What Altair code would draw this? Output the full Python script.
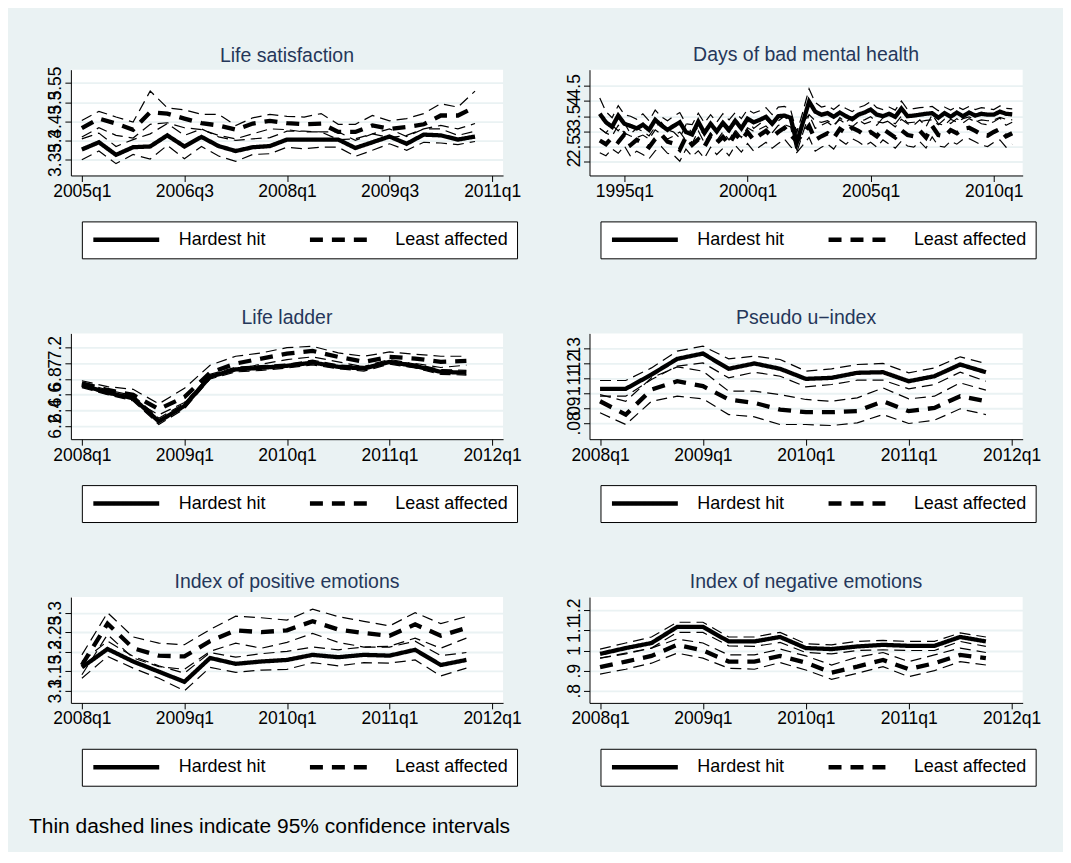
import altair as alt
import pandas as pd

FONT = "Liberation Sans"
BG = "#EAF2F3"
TITLE_COLOR = "#25375A"
GROUPS = ["Hardest hit", "Least affected"]


def qrange(y0, q0, n):
    out, y, q = [], y0, q0
    for _ in range(n):
        out.append(f"{y}q{q}")
        q += 1
        if q > 4:
            q, y = 1, y + 1
    return out


def qnum(s):
    y, q = s.split("q")
    return int(y) * 4 + int(q) - 1


# ---------------- Life satisfaction (2005q1-2010q4) ----------------
ls_quarters = qrange(2005, 1, 24)
ls_hh = [3.376, 3.395, 3.362, 3.382, 3.384, 3.413, 3.384, 3.409, 3.385, 3.372, 3.382, 3.385,
         3.402, 3.402, 3.402, 3.402, 3.380, 3.395, 3.410, 3.391, 3.415, 3.413, 3.402, 3.410]
ls_hh_lo = [3.349, 3.372, 3.339, 3.363, 3.351, 3.387, 3.352, 3.384, 3.359, 3.345, 3.363, 3.365,
            3.382, 3.378, 3.382, 3.382, 3.358, 3.374, 3.391, 3.374, 3.395, 3.393, 3.389, 3.397]
ls_hh_hi = [3.404, 3.419, 3.384, 3.402, 3.417, 3.444, 3.413, 3.430, 3.409, 3.400, 3.404, 3.407,
            3.424, 3.424, 3.422, 3.422, 3.400, 3.417, 3.430, 3.410, 3.430, 3.430, 3.413, 3.424]
ls_la = [3.432, 3.457, 3.444, 3.428, 3.474, 3.470, 3.457, 3.445, 3.439, 3.428, 3.444, 3.451,
         3.445, 3.442, 3.444, 3.422, 3.422, 3.439, 3.430, 3.435, 3.442, 3.465, 3.465, 3.487]
ls_la_lo = [3.409, 3.433, 3.413, 3.406, 3.442, 3.446, 3.433, 3.428, 3.413, 3.404, 3.417, 3.430,
            3.428, 3.422, 3.422, 3.402, 3.404, 3.417, 3.407, 3.413, 3.430, 3.439, 3.430, 3.444]
ls_la_hi = [3.452, 3.476, 3.461, 3.448, 3.529, 3.485, 3.480, 3.468, 3.468, 3.439, 3.459, 3.468,
            3.463, 3.461, 3.470, 3.442, 3.442, 3.465, 3.451, 3.457, 3.470, 3.496, 3.487, 3.529]

# ---------------- Days of bad mental health (1994q1-2010q4) ----------------
mh_quarters = qrange(1994, 1, 68)
mh_hh = [3.58, 3.30, 3.15, 3.52, 3.25, 3.18, 3.10, 3.22, 3.05, 3.38, 3.20, 3.05,
         3.18, 3.30, 2.98, 2.90, 3.32, 2.95, 3.25, 3.00, 3.28, 3.05, 3.35, 3.10,
         3.42, 3.30, 3.38, 3.48, 3.25, 3.50, 3.52, 3.45, 2.62, 3.30, 3.98, 3.65,
         3.55, 3.60, 3.48, 3.62, 3.50, 3.40, 3.55, 3.62, 3.72, 3.55, 3.50, 3.58,
         3.48, 3.75, 3.50, 3.52, 3.55, 3.58, 3.60, 3.45, 3.60, 3.48, 3.62, 3.50,
         3.62, 3.52, 3.58, 3.55, 3.55, 3.65, 3.58, 3.56]
mh_hh_hi = [4.10, 3.65, 3.45, 3.85, 3.55, 3.50, 3.40, 3.58, 3.35, 3.70, 3.48, 3.35,
            3.50, 3.62, 3.25, 3.22, 3.60, 3.28, 3.55, 3.30, 3.58, 3.38, 3.62, 3.42,
            3.72, 3.60, 3.68, 3.78, 3.55, 3.80, 3.82, 3.72, 2.95, 3.65, 4.40, 3.95,
            3.80, 3.85, 3.72, 3.88, 3.75, 3.65, 3.78, 3.85, 3.98, 3.78, 3.72, 3.80,
            3.70, 4.00, 3.72, 3.75, 3.78, 3.80, 3.82, 3.68, 3.80, 3.70, 3.82, 3.72,
            3.82, 3.72, 3.78, 3.75, 3.72, 3.84, 3.76, 3.74]
mh_hh_lo = [3.10, 2.95, 2.85, 3.20, 2.95, 2.85, 2.80, 2.88, 2.75, 3.05, 2.90, 2.75,
            2.85, 2.98, 2.70, 2.60, 3.02, 2.62, 2.95, 2.70, 2.98, 2.72, 3.05, 2.80,
            3.12, 3.00, 3.08, 3.18, 2.95, 3.20, 3.22, 3.15, 2.30, 2.95, 3.55, 3.35,
            3.30, 3.35, 3.22, 3.38, 3.25, 3.15, 3.32, 3.38, 3.48, 3.32, 3.28, 3.35,
            3.25, 3.50, 3.28, 3.30, 3.32, 3.36, 3.38, 3.22, 3.40, 3.26, 3.42, 3.28,
            3.42, 3.32, 3.38, 3.35, 3.38, 3.46, 3.40, 3.38]
mh_la = [2.70, 2.58, 2.80, 2.65, 2.90, 2.55, 2.72, 2.62, 2.48, 2.75, 2.90, 2.66,
         2.60, 2.40, 2.82, 2.56, 2.74, 2.50, 2.86, 2.62, 2.82, 2.58, 2.92, 2.70,
         2.98, 2.72, 2.88, 3.02, 2.82, 2.98, 3.12, 2.88, 2.68, 2.92, 3.18, 2.72,
         2.84, 2.94, 2.78, 3.08, 2.94, 3.12, 3.02, 2.88, 2.98, 2.84, 3.08, 2.94,
         2.80, 3.04, 2.88, 2.84, 3.02, 2.80, 3.18, 2.88, 2.84, 3.04, 2.94, 3.08,
         3.12, 3.02, 2.90, 2.86, 2.98, 3.08, 2.84, 2.94]
mh_la_hi = [3.10, 2.95, 3.20, 3.02, 3.28, 2.92, 3.10, 3.00, 2.85, 3.15, 3.30, 3.05,
            2.98, 2.78, 3.22, 2.95, 3.12, 2.88, 3.25, 3.00, 3.20, 2.95, 3.30, 3.08,
            3.35, 3.10, 3.25, 3.40, 3.20, 3.35, 3.50, 3.25, 3.05, 3.30, 3.55, 3.10,
            3.20, 3.30, 3.15, 3.45, 3.30, 3.48, 3.38, 3.25, 3.32, 3.20, 3.45, 3.30,
            3.15, 3.40, 3.25, 3.20, 3.38, 3.15, 3.55, 3.25, 3.20, 3.40, 3.30, 3.42,
            3.48, 3.38, 3.25, 3.22, 3.32, 3.44, 3.20, 3.30]
mh_la_lo = [2.30, 2.20, 2.42, 2.28, 2.52, 2.18, 2.35, 2.24, 2.10, 2.36, 2.50, 2.28,
            2.22, 2.02, 2.42, 2.18, 2.36, 2.12, 2.48, 2.24, 2.44, 2.20, 2.54, 2.32,
            2.60, 2.35, 2.50, 2.64, 2.45, 2.60, 2.75, 2.50, 2.30, 2.55, 2.80, 2.35,
            2.48, 2.58, 2.42, 2.72, 2.58, 2.76, 2.66, 2.52, 2.64, 2.48, 2.72, 2.58,
            2.45, 2.68, 2.52, 2.48, 2.66, 2.45, 2.82, 2.52, 2.48, 2.68, 2.58, 2.74,
            2.76, 2.66, 2.55, 2.50, 2.64, 2.72, 2.48, 2.58]

# ---------------- 2008q1-2011q4 panels ----------------
q16 = qrange(2008, 1, 16)

ll_hh = [6.723, 6.626, 6.554, 6.259, 6.457, 6.829, 6.922, 6.943, 6.968, 7.010, 6.955, 6.934, 7.019, 6.964, 6.892, 6.879]
ll_hh_hi = [6.75, 6.66, 6.59, 6.30, 6.49, 6.86, 6.95, 6.97, 6.99, 7.04, 6.98, 6.96, 7.05, 6.99, 6.92, 6.91]
ll_hh_lo = [6.69, 6.60, 6.52, 6.22, 6.42, 6.80, 6.89, 6.91, 6.94, 6.98, 6.93, 6.90, 6.99, 6.94, 6.86, 6.85]
ll_la = [6.744, 6.660, 6.597, 6.415, 6.570, 6.879, 6.997, 7.061, 7.124, 7.158, 7.082, 7.019, 7.082, 7.061, 7.019, 7.031]
ll_la_hi = [6.778, 6.702, 6.668, 6.483, 6.681, 6.976, 7.090, 7.133, 7.200, 7.217, 7.133, 7.090, 7.145, 7.116, 7.090, 7.090]
ll_la_lo = [6.702, 6.609, 6.533, 6.343, 6.500, 6.829, 6.922, 6.989, 7.048, 7.082, 7.019, 6.955, 7.019, 6.998, 6.947, 6.976]

pu_hh = [0.1030, 0.1030, 0.1126, 0.1232, 0.1268, 0.1165, 0.1201, 0.1165, 0.1097, 0.1104, 0.1138, 0.1142, 0.1081, 0.1115, 0.1194, 0.1142]
pu_hh_hi = [0.1086, 0.1086, 0.1171, 0.1284, 0.1318, 0.1232, 0.1250, 0.1228, 0.1149, 0.1165, 0.1194, 0.1201, 0.1138, 0.1171, 0.1246, 0.1201]
pu_hh_lo = [0.0980, 0.0980, 0.1093, 0.1183, 0.1205, 0.1104, 0.1142, 0.1115, 0.1043, 0.1059, 0.1088, 0.1088, 0.1030, 0.1059, 0.1142, 0.1081]
pu_la = [0.0946, 0.0856, 0.1025, 0.1081, 0.1048, 0.0958, 0.0935, 0.0890, 0.0872, 0.0872, 0.0879, 0.0946, 0.0879, 0.0901, 0.0980, 0.0946]
pu_la_hi = [0.0991, 0.0946, 0.1104, 0.1178, 0.1149, 0.1014, 0.1014, 0.0991, 0.0958, 0.0946, 0.0969, 0.1036, 0.0962, 0.0980, 0.1070, 0.1021]
pu_la_lo = [0.0868, 0.0789, 0.0946, 0.0980, 0.0962, 0.0856, 0.0841, 0.0789, 0.0789, 0.0782, 0.0800, 0.0856, 0.0796, 0.0818, 0.0895, 0.0856]

pe_hh = [3.160, 3.207, 3.175, 3.149, 3.123, 3.184, 3.169, 3.175, 3.179, 3.192, 3.186, 3.192, 3.190, 3.205, 3.166, 3.179]
pe_hh_hi = [3.175, 3.227, 3.188, 3.164, 3.145, 3.198, 3.186, 3.195, 3.201, 3.212, 3.205, 3.212, 3.212, 3.227, 3.190, 3.198]
pe_hh_lo = [3.132, 3.188, 3.158, 3.132, 3.100, 3.160, 3.147, 3.153, 3.155, 3.172, 3.164, 3.172, 3.171, 3.179, 3.138, 3.158]
pe_la = [3.166, 3.272, 3.209, 3.190, 3.188, 3.227, 3.255, 3.250, 3.255, 3.278, 3.257, 3.248, 3.241, 3.270, 3.241, 3.261]
pe_la_hi = [3.192, 3.300, 3.238, 3.222, 3.218, 3.257, 3.291, 3.287, 3.281, 3.309, 3.290, 3.278, 3.266, 3.300, 3.272, 3.290]
pe_la_lo = [3.141, 3.244, 3.184, 3.162, 3.155, 3.201, 3.222, 3.209, 3.224, 3.247, 3.224, 3.212, 3.214, 3.235, 3.209, 3.235]

ne_hh = [0.983, 1.012, 1.037, 1.117, 1.117, 1.045, 1.045, 1.067, 1.012, 1.007, 1.020, 1.028, 1.023, 1.023, 1.067, 1.045]
ne_hh_hi = [1.007, 1.037, 1.067, 1.140, 1.140, 1.067, 1.067, 1.090, 1.033, 1.028, 1.045, 1.050, 1.045, 1.045, 1.087, 1.067]
ne_hh_lo = [0.962, 0.987, 1.012, 1.090, 1.090, 1.023, 1.020, 1.040, 0.990, 0.983, 1.000, 1.003, 1.000, 1.000, 1.045, 1.020]
ne_la = [0.917, 0.945, 0.973, 1.028, 1.000, 0.945, 0.945, 0.973, 0.940, 0.890, 0.920, 0.953, 0.907, 0.937, 0.978, 0.962]
ne_la_hi = [0.962, 0.983, 1.012, 1.057, 1.037, 0.978, 0.978, 1.007, 0.973, 0.928, 0.967, 0.990, 0.945, 0.978, 1.012, 0.990]
ne_la_lo = [0.883, 0.907, 0.937, 0.987, 0.962, 0.912, 0.907, 0.940, 0.903, 0.857, 0.887, 0.920, 0.870, 0.900, 0.945, 0.928]

# ---------------- axis ticks ----------------
ls_xticks = ["2005q1", "2006q3", "2008q1", "2009q3", "2011q1"]
mh_xticks = ["1995q1", "2000q1", "2005q1", "2010q1"]
q16_xticks = ["2008q1", "2009q1", "2010q1", "2011q1", "2012q1"]

ls_yticks = [3.35, 3.4, 3.45, 3.5, 3.55]
mh_yticks = [2, 2.5, 3, 3.5, 4, 4.5]
ll_yticks = [6.2, 6.4, 6.6, 6.8, 7, 7.2]
pu_yticks = [0.08, 0.09, 0.1, 0.11, 0.12, 0.13]
pe_yticks = [3.1, 3.15, 3.2, 3.25, 3.3]
ne_yticks = [0.8, 0.9, 1, 1.1, 1.2]

panels = [
    dict(title="Life satisfaction", q=ls_quarters, hh=ls_hh, hh_lo=ls_hh_lo, hh_hi=ls_hh_hi,
         la=ls_la, la_lo=ls_la_lo, la_hi=ls_la_hi, xt=ls_xticks, xpad=(0.64, 0.64),
         yt=ls_yticks, ydom=[3.308, 3.585], w=433, toff=-15.4),
    dict(title="Days of bad mental health", q=mh_quarters, hh=mh_hh, hh_lo=mh_hh_lo, hh_hi=mh_hh_hi,
         la=mh_la, la_lo=mh_la_lo, la_hi=mh_la_hi, xt=mh_xticks, xpad=(5.67, 4.7),
         yt=mh_yticks, ydom=[1.55, 5.03], w=434, toff=-10.4),
    dict(title="Life ladder", q=q16, hh=ll_hh, hh_lo=ll_hh_lo, hh_hi=ll_hh_hi,
         la=ll_la, la_lo=ll_la_lo, la_hi=ll_la_hi, xt=q16_xticks, xpad=(0.43, 0.43),
         yt=ll_yticks, ydom=[6.032, 7.382], w=433, toff=-10.4),
    dict(title="Pseudo u\u2212index", q=q16, hh=pu_hh, hh_lo=pu_hh_lo, hh_hi=pu_hh_hi,
         la=pu_la, la_lo=pu_la_lo, la_hi=pu_la_hi, xt=q16_xticks, xpad=(0.41, 0.43),
         yt=pu_yticks, ydom=[0.069, 0.1404], w=434, toff=-10.4),
    dict(title="Index of positive emotions", q=q16, hh=pe_hh, hh_lo=pe_hh_lo, hh_hi=pe_hh_hi,
         la=pe_la, la_lo=pe_la_lo, la_hi=pe_la_hi, xt=q16_xticks, xpad=(0.43, 0.43),
         yt=pe_yticks, ydom=[3.069, 3.340], w=433, toff=-10.4),
    dict(title="Index of negative emotions", q=q16, hh=ne_hh, hh_lo=ne_hh_lo, hh_hi=ne_hh_hi,
         la=ne_la, la_lo=ne_la_lo, la_hi=ne_la_hi, xt=q16_xticks, xpad=(0.41, 0.43),
         yt=ne_yticks, ydom=[0.74, 1.265], w=434, toff=-10.4),
]

PLOT_H = 106


def make_panel(p):
    rows = []
    for i, q in enumerate(p["q"]):
        t = qnum(q)
        for g, k in (("Hardest hit", "hh"), ("Least affected", "la")):
            rows.append(dict(t=t, group=g, series=g + "|mean", kind="mean", value=p[k][i]))
            rows.append(dict(t=t, group=g, series=g + "|lo", kind="ci", value=p[k + "_lo"][i]))
            rows.append(dict(t=t, group=g, series=g + "|hi", kind="ci", value=p[k + "_hi"][i]))
    df = pd.DataFrame(rows)
    xt = [qnum(s) for s in p["xt"]]
    xdom = [xt[0] - p["xpad"][0], xt[-1] + p["xpad"][1]]

    x = alt.X("t:Q", scale=alt.Scale(domain=xdom, nice=False, zero=False),
              axis=alt.Axis(values=xt, title=None, grid=False,
                            labelExpr="floor(datum.value / 4) + 'q' + (datum.value % 4 + 1)",
                            labelFlush=False, labelOverlap=False, labelPadding=1,
                            labelFontSize=17.5, labelFont=FONT, labelColor="black",
                            domainColor="black", tickColor="black", tickSize=6))
    y = alt.Y("value:Q", scale=alt.Scale(domain=p["ydom"], nice=False, zero=False),
              axis=alt.Axis(values=p["yt"], title=None, grid=True, gridColor=BG, gridWidth=1.8,
                            labelExpr="datum.value < 1 ? replace(toString(datum.value), '0.', '.') : toString(datum.value)",
                            labelAngle=270, labelAlign="center", labelBaseline="alphabetic",
                            labelOverlap=False, labelPadding=4,
                            labelFontSize=17.5, labelFont=FONT, labelColor="black",
                            domainColor="black", tickColor="black", tickSize=6))

    base = alt.Chart(df)
    ci = base.transform_filter("datum.kind == 'ci'").mark_line(
        color="black", strokeWidth=1.2, strokeDash=[11, 6]
    ).encode(x=x, y=y, detail="series:N")
    mean = base.transform_filter("datum.kind == 'mean'").mark_line(
        color="black", strokeWidth=4.3
    ).encode(
        x=x, y=y,
        strokeDash=alt.StrokeDash(
            "group:N",
            scale=alt.Scale(domain=GROUPS, range=[[1, 0], [13, 9]]),
            legend=alt.Legend(title=None, orient="none", legendX=11, legendY=152,
                              direction="horizontal", columns=2,
                              fillColor="white", strokeColor="black", padding=9,
                              symbolType="stroke", symbolSize=4356, symbolStrokeWidth=4.5,
                              symbolStrokeColor="black", symbolOffset=0,
                              labelFont=FONT, labelFontSize=18, labelColor="black",
                              labelOffset=17, columnPadding=41, clipHeight=19, labelLimit=300),
        ),
    )
    return alt.layer(ci, mean).properties(
        width=p["w"], height=PLOT_H,
        title=alt.TitleParams(p["title"], fontSize=19.5, font=FONT, fontWeight="normal",
                              color=TITLE_COLOR, anchor="middle", frame="group",
                              baseline="alphabetic", offset=p["toff"]),
    )


charts = [make_panel(p) for p in panels]

chart = (
    alt.concat(*charts, columns=2, spacing={"row": 158.2, "column": 86.6}, bounds="flush")
    .resolve_scale(strokeDash="independent")
    .resolve_legend(strokeDash="independent")
    .properties(
        title=alt.TitleParams("Thin dashed lines indicate 95% confidence intervals",
                              orient="bottom", anchor="start", frame="bounds",
                              baseline="alphabetic", offset=47, dx=-18,
                              fontSize=21, font=FONT, fontWeight="normal", color="black"),
        padding={"left": 20, "top": 35, "right": 22, "bottom": 14},
    )
    .configure(background=BG)
    .configure_view(stroke=None, fill="white")
)

chart.save("out.html", embed_options={"renderer": "svg", "actions": False})
